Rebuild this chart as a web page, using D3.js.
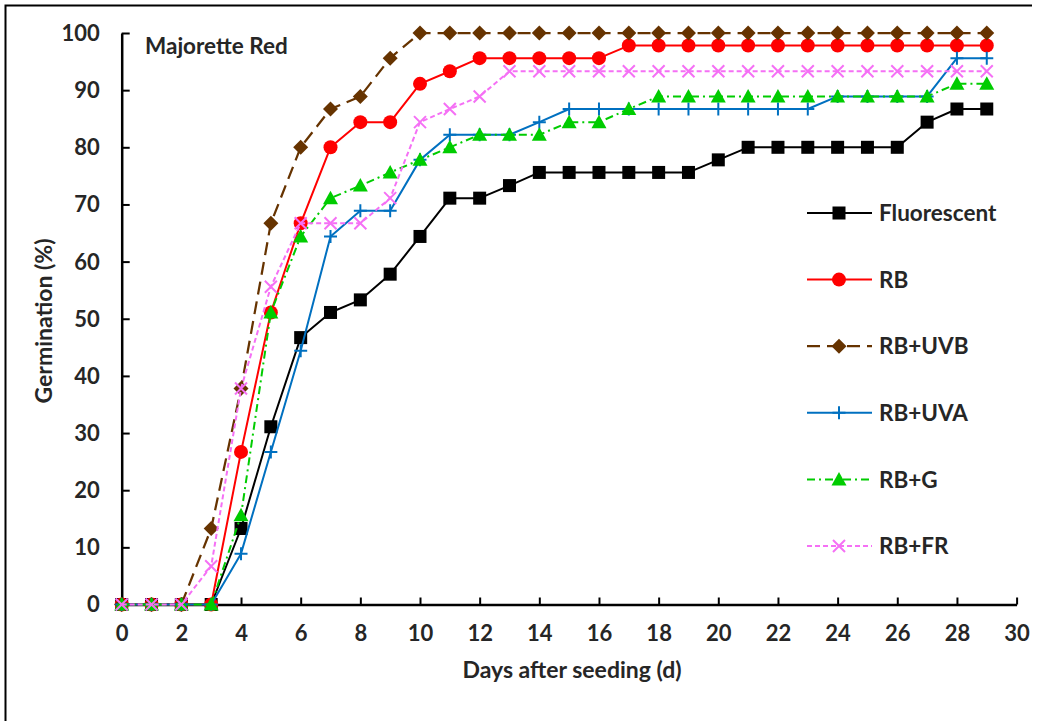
<!DOCTYPE html>
<html>
<head>
<meta charset="utf-8">
<script src="https://cdn.jsdelivr.net/npm/d3@7"></script>
<style>
  html, body { margin: 0; padding: 0; background: #ffffff; }
  svg { display: block; }
  text { font-family: Lato, "Open Sans", "Liberation Sans", sans-serif; font-weight: 700; fill: #262626; }
</style>
</head>
<body>
<svg id="chart" width="1037" height="721"></svg>
<script>
// Germination (%) of Majorette Red seeds by day under six light treatments
const days = d3.range(0, 30);

const fluorescent = [0, 0, 0, 0, 13.3, 31.1, 46.7, 51.1, 53.3, 57.8, 64.4, 71.1, 71.1, 73.3, 75.6,
  75.6, 75.6, 75.6, 75.6, 75.6, 77.8, 80, 80, 80, 80, 80, 80, 84.4, 86.7, 86.7];
const rb = [0, 0, 0, 0, 26.7, 51.1, 66.7, 80, 84.4, 84.4, 91.1, 93.3, 95.6, 95.6, 95.6,
  95.6, 95.6, 97.8, 97.8, 97.8, 97.8, 97.8, 97.8, 97.8, 97.8, 97.8, 97.8, 97.8, 97.8, 97.8];
const rbUvb = [0, 0, 0, 13.3, 37.8, 66.7, 80, 86.7, 88.9, 95.6, 100, 100, 100, 100, 100,
  100, 100, 100, 100, 100, 100, 100, 100, 100, 100, 100, 100, 100, 100, 100];
const rbUva = [0, 0, 0, 0, 8.9, 26.7, 44.4, 64.4, 68.9, 68.9, 77.8, 82.2, 82.2, 82.2, 84.4,
  86.7, 86.7, 86.7, 86.7, 86.7, 86.7, 86.7, 86.7, 86.7, 88.9, 88.9, 88.9, 88.9, 95.6, 95.6];
const rbG = [0, 0, 0, 0, 15.6, 51.1, 64.4, 71.1, 73.3, 75.6, 77.8, 80, 82.2, 82.2, 82.2,
  84.4, 84.4, 86.7, 88.9, 88.9, 88.9, 88.9, 88.9, 88.9, 88.9, 88.9, 88.9, 88.9, 91.1, 91.1];
const rbFr = [0, 0, 0, 6.7, 37.8, 55.6, 66.7, 66.7, 66.7, 71.1, 84.4, 86.7, 88.9, 93.3, 93.3,
  93.3, 93.3, 93.3, 93.3, 93.3, 93.3, 93.3, 93.3, 93.3, 93.3, 93.3, 93.3, 93.3, 93.3, 93.3];

const seriesNames = ["Fluorescent", "RB", "RB+UVB", "RB+UVA", "RB+G", "RB+FR"];
const xTicks = d3.range(0, 31, 2);
const yTicks = d3.range(0, 101, 10);

const series = [
  { name: seriesNames[0], values: fluorescent, color: "#000000", dash: null, width: 2, marker: "square" },
  { name: seriesNames[1], values: rb, color: "#ff0000", dash: null, width: 2, marker: "circle" },
  { name: seriesNames[2], values: rbUvb, color: "#663300", dash: "13,7", width: 2.25, marker: "diamond" },
  { name: seriesNames[3], values: rbUva, color: "#0070c0", dash: null, width: 2, marker: "plus" },
  { name: seriesNames[4], values: rbG, color: "#00cc00", dash: "8,4,2,4", width: 2, marker: "triangle" },
  { name: seriesNames[5], values: rbFr, color: "#f570f5", dash: "5,3", width: 2, marker: "cross" }
];

const svg = d3.select("#chart");

// outer frame
svg.append("path")
  .attr("d", "M5.5,721 L5.5,5.5 L1032,5.5")
  .attr("fill", "none").attr("stroke", "#000").attr("stroke-width", 2);

const x = d3.scaleLinear().domain([0, 30]).range([121.7, 1016.6]);
const y = d3.scaleLinear().domain([0, 100]).range([604.5, 33]);

// axes with inward ticks
const xAxis = svg.append("g").attr("transform", `translate(0,${y(0)})`)
  .call(d3.axisBottom(x).tickValues(xTicks).tickSize(-7).tickSizeOuter(0).tickFormat(d3.format("d")));
const yAxis = svg.append("g").attr("transform", `translate(${x(0)},0)`)
  .call(d3.axisLeft(y).tickValues(yTicks).tickSize(-8).tickSizeOuter(0).tickFormat(d3.format("d")));

[xAxis, yAxis].forEach(g => {
  g.select(".domain").attr("stroke", "#000").attr("stroke-width", 2.5);
  g.selectAll(".tick line").attr("stroke", "#000").attr("stroke-width", 2);
  g.selectAll(".tick text").attr("font-size", 22).attr("fill", "#262626")
    .style("font-family", "Lato, sans-serif").style("font-weight", 700);
});
xAxis.selectAll(".tick text").attr("y", 21).attr("dy", "0.71em");
yAxis.selectAll(".tick text").attr("x", -22).attr("dy", "0.34em");

// axis titles and chart label
svg.append("text").attr("x", 572).attr("y", 678).attr("text-anchor", "middle")
  .attr("font-size", 23).text("Days after seeding (d)");
svg.append("text").attr("transform", "translate(52,321) rotate(-90)").attr("text-anchor", "middle")
  .attr("font-size", 23).text("Germination (%)");
svg.append("text").attr("x", 145).attr("y", 54).attr("font-size", 22.5).text("Majorette Red");

// marker drawing
function drawMarker(g, type, cx, cy, color) {
  if (type === "square") {
    g.append("rect").attr("x", cx - 6.5).attr("y", cy - 6.5).attr("width", 13).attr("height", 13)
      .attr("fill", color);
  } else if (type === "circle") {
    g.append("circle").attr("cx", cx).attr("cy", cy).attr("r", 7).attr("fill", color);
  } else if (type === "diamond") {
    g.append("path").attr("d", `M${cx},${cy - 7.5}L${cx + 7.5},${cy}L${cx},${cy + 7.5}L${cx - 7.5},${cy}Z`)
      .attr("fill", color);
  } else if (type === "triangle") {
    g.append("path").attr("d", `M${cx},${cy - 7.5}L${cx + 7.5},${cy + 6}L${cx - 7.5},${cy + 6}Z`)
      .attr("fill", color);
  } else if (type === "plus") {
    g.append("path").attr("d", `M${cx - 6.5},${cy}L${cx + 6.5},${cy}M${cx},${cy - 6.5}L${cx},${cy + 6.5}`)
      .attr("stroke", color).attr("stroke-width", 2).attr("fill", "none");
  } else if (type === "cross") {
    g.append("path").attr("d", `M${cx - 6},${cy - 6}L${cx + 6},${cy + 6}M${cx - 6},${cy + 6}L${cx + 6},${cy - 6}`)
      .attr("stroke", color).attr("stroke-width", 2).attr("fill", "none");
  }
}

const line = d3.line().x((d, i) => x(days[i])).y(d => y(d));

series.forEach(s => {
  const g = svg.append("g");
  g.append("path").datum(s.values).attr("d", line)
    .attr("fill", "none").attr("stroke", s.color).attr("stroke-width", s.width)
    .attr("stroke-dasharray", s.dash).attr("stroke-linejoin", "round");
  s.values.forEach((v, i) => drawMarker(g, s.marker, x(days[i]), y(v), s.color));
});

// legend
const legendX0 = 807, legendX1 = 872, legendMarkX = 839, legendTextX = 879;
const legendY = d3.scaleLinear().domain([0, 5]).range([213, 546]);
series.forEach((s, i) => {
  const g = svg.append("g");
  const ly = legendY(i);
  g.append("line").attr("x1", legendX0).attr("x2", legendX1).attr("y1", ly).attr("y2", ly)
    .attr("stroke", s.color).attr("stroke-width", s.width).attr("stroke-dasharray", s.dash);
  drawMarker(g, s.marker, legendMarkX, ly, s.color);
  g.append("text").attr("x", legendTextX).attr("y", ly).attr("dy", "0.36em")
    .attr("font-size", 22.5).text(s.name);
});
</script>
</body>
</html>
